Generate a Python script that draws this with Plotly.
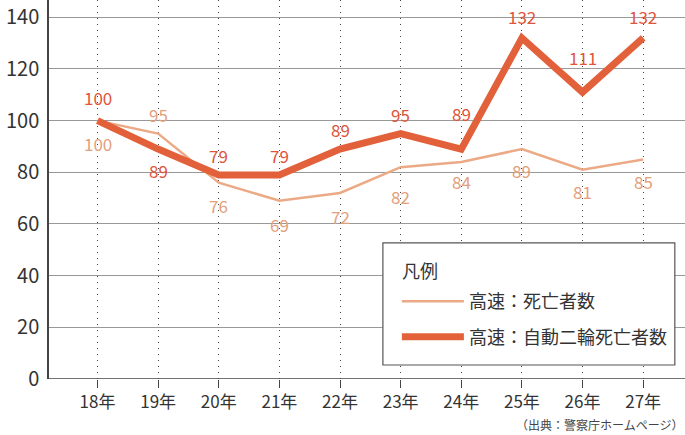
import plotly.graph_objects as go

years = ["18年", "19年", "20年", "21年", "22年", "23年", "24年", "25年", "26年", "27年"]
deaths_all = [100, 95, 76, 69, 72, 82, 84, 89, 81, 85]
deaths_moto = [100, 89, 79, 79, 89, 95, 89, 132, 111, 132]

# label vertical offsets in pixels (style only)
shift_all = [-23, 19, -23, -24, -24, -29, -20, -21, -22, -22]
shift_moto = [23, -21, 19, 19, 20, 19.5, 36, 21, 35, 21]

FONT = "Noto Sans CJK JP, Noto Sans, sans-serif"
x = list(range(len(years)))

fig = go.Figure()
fig.add_trace(go.Scatter(
    x=x, y=deaths_all, mode="lines", name="高速：死亡者数",
    legendgroup="a",
    line=dict(color="#EBAA85", width=2.5),
))
fig.add_trace(go.Scatter(
    x=x, y=deaths_moto, mode="lines", name="高速：自動二輪死亡者数",
    legendgroup="b",
    line=dict(color="#E2603A", width=7),
))

annotations = []
for xi, v, s in zip(x, deaths_all, shift_all):
    annotations.append(dict(x=xi, y=v, xref="x", yref="y", text=str(v), showarrow=False,
                            yshift=s, font=dict(size=17, color="#E3A07C", family=FONT)))
for xi, v, s in zip(x, deaths_moto, shift_moto):
    annotations.append(dict(x=xi, y=v, xref="x", yref="y", text=str(v), showarrow=False,
                            yshift=s, font=dict(size=17, color="#E0553A", family=FONT)))
annotations.append(dict(text="凡例", xref="paper", yref="paper",
                        x=0.552, y=0.2876, xanchor="left", yanchor="middle", showarrow=False,
                        font=dict(size=18, color="#333333", family=FONT)))
annotations.append(dict(text="（出典：警察庁ホームページ）", xref="paper", yref="paper",
                        x=1.0, y=-0.12, xanchor="right", yanchor="middle", showarrow=False,
                        font=dict(size=12, color="#444444", family=FONT)))

fig.update_layout(
    width=685, height=435,
    margin=dict(l=49, r=0, t=0, b=56),
    paper_bgcolor="white", plot_bgcolor="white",
    font=dict(family=FONT, color="#333333"),
    showlegend=True,
    legend=dict(
        x=0.547, y=0.253, xanchor="left", yanchor="top",
        borderwidth=0, bgcolor="rgba(0,0,0,0)",
        font=dict(size=18, color="#333333"),
        tracegroupgap=9, itemwidth=62,
    ),
    xaxis=dict(
        tickmode="array", tickvals=x, ticktext=years,
        range=[-0.8, 9.69], automargin=False,
        showgrid=True, gridcolor="#444444", griddash="1px,5px", gridwidth=1.2,
        ticks="outside", ticklen=8, tickcolor="#444444",
        showline=False, zeroline=False,
        tickfont=dict(size=17, color="#333333"),
    ),
    yaxis=dict(
        range=[0, 146.7], tickvals=[0, 20, 40, 60, 80, 100, 120, 140],
        automargin=False,
        showgrid=True, gridcolor="#999999", gridwidth=1,
        showline=True, linecolor="#444444", linewidth=1.5,
        zeroline=False, ticks="", ticklabelstandoff=4,
        tickfont=dict(size=20, color="#333333"),
    ),
    shapes=[
        dict(type="line", xref="paper", yref="y", x0=0, x1=1, y0=0, y1=0,
             line=dict(color="#444444", width=1.5)),
        dict(type="rect", xref="paper", yref="paper", x0=0.525, x1=0.984, y0=0.037, y1=0.359,
             fillcolor="white", line=dict(color="#555555", width=1.2), layer="above"),
    ],
    annotations=annotations,
)

fig.write_html("out.html", config={"displayModeBar": False},
               post_script="document.body.style.margin='0';")
